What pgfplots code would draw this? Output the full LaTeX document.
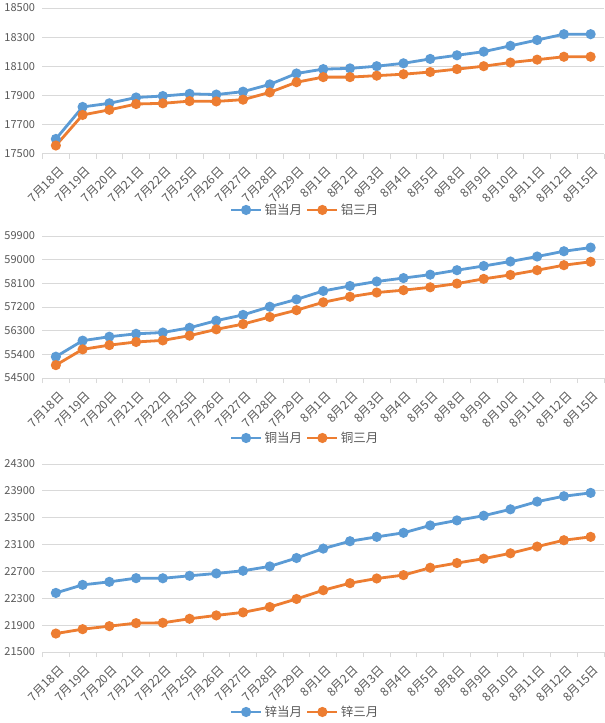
\documentclass[border=0pt]{standalone}
\usepackage{fontspec}
\setmainfont{Noto Sans CJK SC}
\usepackage{pgfplots}
\usepackage{pgfplotstable}
\pgfplotsset{compat=1.18}
\definecolor{cblue}{HTML}{5B9BD5}
\definecolor{corange}{HTML}{ED7D31}
\definecolor{tickgray}{HTML}{595959}
\definecolor{gridgray}{HTML}{D9D9D9}

\pgfplotstableread{
x cur three
0 17600 17555
1 17820 17765
2 17845 17800
3 17885 17840
4 17895 17845
5 17910 17860
6 17905 17858
7 17925 17870
8 17975 17920
9 18050 17990
10 18080 18025
11 18085 18025
12 18100 18035
13 18120 18045
14 18150 18060
15 18175 18080
16 18200 18100
17 18240 18125
18 18280 18145
19 18320 18165
20 18320 18165
}\alu

\pgfplotstableread{
x cur three
0 55310 54990
1 55920 55590
2 56070 55750
3 56180 55870
4 56230 55930
5 56410 56110
6 56680 56350
7 56900 56550
8 57210 56820
9 57490 57080
10 57810 57380
11 58000 57590
12 58170 57750
13 58300 57840
14 58430 57950
15 58600 58090
16 58760 58270
17 58930 58420
18 59120 58600
19 59320 58790
20 59460 58920
}\cu

\pgfplotstableread{
x cur three
0 22380 21775
1 22500 21840
2 22545 21885
3 22600 21930
4 22598 21935
5 22635 21995
6 22670 22045
7 22710 22090
8 22775 22170
9 22900 22290
10 23040 22420
11 23150 22525
12 23215 22595
13 23275 22645
14 23385 22755
15 23460 22825
16 23530 22890
17 23625 22970
18 23740 23070
19 23820 23165
20 23870 23215
}\zn

\pgfplotsset{
  mystyle/.style={
    scale only axis, width=561.5pt,
    xmin=-0.5, xmax=20.5,
    xtick={0,...,20},
    xticklabels={7月18日,7月19日,7月20日,7月21日,7月22日,7月25日,7月26日,7月27日,7月28日,7月29日,8月1日,8月2日,8月3日,8月4日,8月5日,8月8日,8月9日,8月10日,8月11日,8月12日,8月15日},
    axis x line*=bottom, axis y line*=left,
    x axis line style={draw=gridgray, line width=0.8pt, -},
    y axis line style={draw=none},
    major tick length=0pt,
    tick style={draw=gridgray, line width=0.8pt},
    extra x ticks={-0.5,0.5,...,20.5},
    extra x tick labels={},
    extra x tick style={major tick length=5pt, tick align=outside, grid=none},
    ymajorgrids, grid style={gridgray, line width=0.8pt},
    scaled y ticks=false,
    /pgf/number format/assume math mode=true,
    /pgf/number format/1000 sep={},
    tick label style={font=\fontsize{11}{13}\selectfont, text=tickgray},
    xticklabel style={font=\fontsize{12}{14}\selectfont, xshift=2pt, yshift=-12pt, rotate=45, anchor=north east, inner sep=0pt},
    yticklabel style={xshift=-4pt},
    legend columns=2,
    legend style={draw=none, fill=none, anchor=center, font=\fontsize{12.5}{14}\selectfont, text=tickgray,
      /tikz/every even column/.append style={column sep=2pt}, inner sep=0pt},
    legend image code/.code={\draw[mark repeat=2,mark phase=2,##1] plot coordinates {(0pt,0pt) (15pt,0pt) (30pt,0pt)};},
    every axis plot/.append style={line width=2.8pt, mark=*, mark size=3.6pt, mark options={solid}},
  }
}

\begin{document}
\begin{tikzpicture}
\useasboundingbox (0pt,0pt) rectangle (605pt,-723pt);
\fill[white] (0pt,0pt) rectangle (605pt,-723pt);

\begin{axis}[mystyle, at={(42.5pt,-8pt)}, anchor=north west, height=145.5pt,
  ymin=17500, ymax=18500, ytick={17500,17700,...,18500},
  legend style={at={(axis description cs:0.4675,-0.388)}}]
\addplot[color=cblue] table[x=x,y=cur] {\alu};
\addlegendentry{铝当月}
\addplot[color=corange] table[x=x,y=three] {\alu};
\addlegendentry{铝三月}
\end{axis}

\begin{axis}[mystyle, at={(42.5pt,-236pt)}, anchor=north west, height=142pt,
  ymin=54500, ymax=59900, ytick={54500,55400,...,59900},
  legend style={at={(axis description cs:0.4675,-0.4225)}}]
\addplot[color=cblue] table[x=x,y=cur] {\cu};
\addlegendentry{铜当月}
\addplot[color=corange] table[x=x,y=three] {\cu};
\addlegendentry{铜三月}
\end{axis}

\begin{axis}[mystyle, at={(42.5pt,-464pt)}, anchor=north west, height=188pt,
  ymin=21500, ymax=24300, ytick={21500,21900,...,24300},
  legend style={at={(axis description cs:0.4675,-0.319)}}]
\addplot[color=cblue] table[x=x,y=cur] {\zn};
\addlegendentry{锌当月}
\addplot[color=corange] table[x=x,y=three] {\zn};
\addlegendentry{锌三月}
\end{axis}
\end{tikzpicture}
\end{document}
